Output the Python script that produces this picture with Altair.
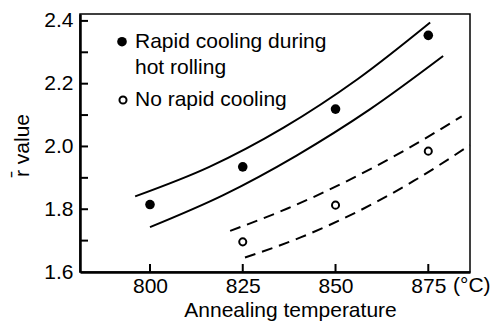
import altair as alt
import pandas as pd

# Measured r-bar values at each annealing temperature
temps = [800, 825, 850, 875]
rapid_vals = [1.815, 1.935, 2.119, 2.354]
no_rapid_temps = [825, 850, 875]
no_rapid_vals = [1.696, 1.813, 1.985]

# Scatter-band boundaries (solid: rapid cooling, dashed: no rapid cooling)
band_rapid_upper_t = [796.0, 816.0, 836.0, 856.0, 875.5]
band_rapid_upper_v = [1.841, 1.935, 2.060, 2.215, 2.395]
band_rapid_lower_t = [800.0, 819.75, 839.5, 859.25, 879.0]
band_rapid_lower_v = [1.743, 1.845, 1.971, 2.118, 2.288]
band_none_upper_t = [821.6, 837.2, 852.8, 868.4, 884.0]
band_none_upper_v = [1.731, 1.803, 1.888, 1.986, 2.096]
band_none_lower_t = [825.6, 840.75, 855.9, 871.05, 886.2]
band_none_lower_v = [1.646, 1.711, 1.792, 1.890, 2.004]

x_ticks = [800, 825, 850, 875]
y_labels = [1.6, 1.8, 2.0, 2.2, 2.4]
y_minor = [1.7, 1.8, 1.9, 2.0, 2.1, 2.2, 2.3, 2.4]

W, H = 390, 258
FONT = "Liberation Sans"
FS = 21

x_scale = alt.Scale(domain=[781.14, 886.24], nice=False, zero=False)
y_scale = alt.Scale(domain=[1.6, 2.422], nice=False, zero=False)


def band(ts, vs, name):
    return pd.DataFrame({"T": ts, "v": vs, "band": name})


solid_df = pd.concat([
    band(band_rapid_upper_t, band_rapid_upper_v, "upper"),
    band(band_rapid_lower_t, band_rapid_lower_v, "lower"),
])
dashed_df = pd.concat([
    band(band_none_upper_t, band_none_upper_v, "upper"),
    band(band_none_lower_t, band_none_lower_v, "lower"),
])
rapid_df = pd.DataFrame({"T": temps, "v": rapid_vals})
none_df = pd.DataFrame({"T": no_rapid_temps, "v": no_rapid_vals})

x_enc = alt.X("T:Q", scale=x_scale, axis=alt.Axis(
    values=x_ticks, title="Annealing temperature", format="d",
    tickSize=0, labelPadding=3, labelFont=FONT, labelFontSize=FS,
    labelColor="black", titleFont=FONT, titleFontSize=FS,
    titleFontWeight="normal", titleColor="black",
    titleX=210, titleY=38, titleBaseline="middle",
    domainColor="black", domainWidth=2.5, grid=False))
y_enc = alt.Y("v:Q", scale=y_scale, axis=alt.Axis(
    values=y_labels, title="r\u0304 value", format=".1f",
    tickSize=0, labelPadding=7, labelFont=FONT, labelFontSize=FS,
    labelColor="black", titleFont=FONT, titleFontSize=FS,
    titleFontWeight="normal", titleColor="black",
    titleAngle=270, titleX=-58, titleY=131, titleBaseline="middle",
    titleAlign="center",
    domainColor="black", domainWidth=2.5, grid=False))

solid = alt.Chart(solid_df).mark_line(
    color="black", strokeWidth=2, interpolate="monotone"
).encode(x=x_enc, y=y_enc, detail="band:N")

dashed = alt.Chart(dashed_df).mark_line(
    color="black", strokeWidth=2, interpolate="monotone", strokeDash=[11, 7]
).encode(x="T:Q", y="v:Q", detail="band:N")

filled_pts = alt.Chart(rapid_df).mark_point(
    filled=True, color="black", size=92, opacity=1
).encode(x="T:Q", y="v:Q")

open_pts = alt.Chart(none_df).mark_point(
    filled=False, color="black", fill="white", strokeWidth=2, size=50, opacity=1
).encode(x="T:Q", y="v:Q")

# Inward tick marks on the left and bottom axes
y_tick_df = pd.DataFrame({"v": y_minor})
y_ticks = alt.Chart(y_tick_df).mark_rule(color="black", strokeWidth=2).encode(
    y="v:Q", x=alt.value(0), x2=alt.value(8))
x_tick_df = pd.DataFrame({"T": x_ticks})
x_tick_marks = alt.Chart(x_tick_df).mark_rule(color="black", strokeWidth=2).encode(
    x="T:Q", y=alt.value(H), y2=alt.value(H - 8))

# Unit label after the last x tick
unit = alt.Chart(pd.DataFrame({"t": ["(\u00b0C)"]})).mark_text(
    font=FONT, fontSize=FS, align="left", baseline="middle", color="black"
).encode(text="t:N", x=alt.value(373), y=alt.value(H + 14))

# Key in the upper-left corner
key_text_style = dict(font=FONT, fontSize=FS, align="left",
                      baseline="middle", color="black")
key_lines = [
    ("Rapid cooling during", 27.7),
    ("hot rolling", 54.3),
    ("No rapid cooling", 86),
]
key_layers = []
for txt, yy in key_lines:
    key_layers.append(
        alt.Chart(pd.DataFrame({"t": [txt]})).mark_text(**key_text_style)
        .encode(text="t:N", x=alt.value(55), y=alt.value(yy)))
key_layers.append(
    alt.Chart(pd.DataFrame({"k": [0]})).mark_point(
        filled=True, color="black", size=92, opacity=1
    ).encode(x=alt.value(42), y=alt.value(27.7)))
key_layers.append(
    alt.Chart(pd.DataFrame({"k": [0]})).mark_point(
        filled=False, color="black", fill="white", strokeWidth=2, size=50, opacity=1
    ).encode(x=alt.value(43), y=alt.value(86)))

chart = alt.layer(
    solid, dashed, filled_pts, open_pts, y_ticks, x_tick_marks, unit, *key_layers
).properties(
    width=W, height=H,
    autosize=alt.AutoSizeParams(type="none"),
    padding={"left": 80, "top": 14, "right": 25, "bottom": 55},
    background="white",
).configure_view(stroke="black", strokeWidth=1.5)

chart.save("out.html", embed_options={"renderer": "svg", "actions": False})
